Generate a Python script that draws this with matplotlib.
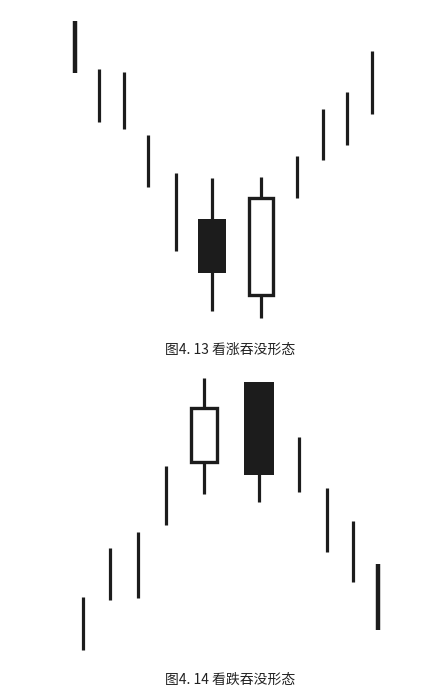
import matplotlib
matplotlib.use("Agg")
import matplotlib.pyplot as plt
from matplotlib.patches import Rectangle

plt.rcParams['font.family'] = ['Noto Sans CJK SC', 'DejaVu Sans']

# top panel: bullish engulfing (price units are arbitrary)
top_x = [0, 0.98, 2.0, 2.98, 4.12, 5.59, 7.59, 9.06, 10.12, 11.1, 12.12]
top_high = [31.9, 27.1, 26.8, 20.5, 16.7, 16.2, 16.3, 18.4, 23.1, 24.8, 28.9]
top_low = [26.7, 21.8, 21.1, 15.3, 8.9, 2.9, 2.2, 14.2, 18.0, 19.5, 22.6]
top_open = [None, None, None, None, None, 12.1, 4.4, None, None, None, None]
top_close = [None, None, None, None, None, 6.7, 14.3, None, None, None, None]

# bottom panel: bearish engulfing
bot_x = [0, 1.1, 2.24, 3.39, 4.94, 7.18, 8.82, 9.96, 11.02, 12.04]
bot_high = [6.3, 11.2, 12.8, 19.4, 28.2, 27.8, 22.3, 17.2, 13.9, 9.6]
bot_low = [1.0, 6.0, 6.2, 13.5, 16.6, 15.8, 16.8, 10.8, 7.8, 3.0]
bot_open = [None, None, None, None, 19.7, 27.8, None, None, None, None]
bot_close = [None, None, None, None, 25.3, 18.5, None, None, None, None]

captions = ["图4. 13 看涨吞没形态", "图4. 14 看跌吞没形态"]

ink = '#1c1c1c'


def draw_panel(ax, xs, highs, lows, opens, closes, thick, hollow_w, solid_w):
    for i, (x, h, l, o, c) in enumerate(zip(xs, highs, lows, opens, closes)):
        lw = 3.2 if i == thick else 2.3
        ax.vlines(x, l, h, color=ink, linewidth=lw, zorder=1)
        if o is None:
            continue
        if c >= o:
            # hollow body
            ax.add_patch(Rectangle((x - hollow_w / 2, o + 0.1), hollow_w, c - o - 0.2,
                                   facecolor='white', edgecolor=ink,
                                   linewidth=2.4, zorder=2))
        else:
            ax.add_patch(Rectangle((x - solid_w / 2, c), solid_w, o - c,
                                   facecolor=ink, edgecolor='none', zorder=2))


fig = plt.figure(figsize=(4.42, 6.97), dpi=100)

ax1 = fig.add_axes([0, 1 - 348 / 697, 1, 348 / 697])
draw_panel(ax1, top_x, top_high, top_low, top_open, top_close, 0, 0.98, 1.12)
ax1.set_xlim(-75 / 24.5, (442 - 75) / 24.5)
ax1.set_ylim(-0.8, 34)
ax1.axis('off')

ax2 = fig.add_axes([0, 0, 1, 349 / 697])
draw_panel(ax2, bot_x, bot_high, bot_low, bot_open, bot_close, len(bot_x) - 1, 1.06, 1.24)
ax2.set_xlim(-83 / 24.5, (442 - 83) / 24.5)
ax2.set_ylim(-3.7, 31.2)
ax2.axis('off')

fig.text(230 / 442, 1 - 350 / 697, captions[0], ha='center', va='center',
         fontsize=10, color='#222222')
fig.text(230 / 442, 1 - 680 / 697, captions[1], ha='center', va='center',
         fontsize=10, color='#222222')

fig.savefig('out.png', dpi=100, facecolor='white')
